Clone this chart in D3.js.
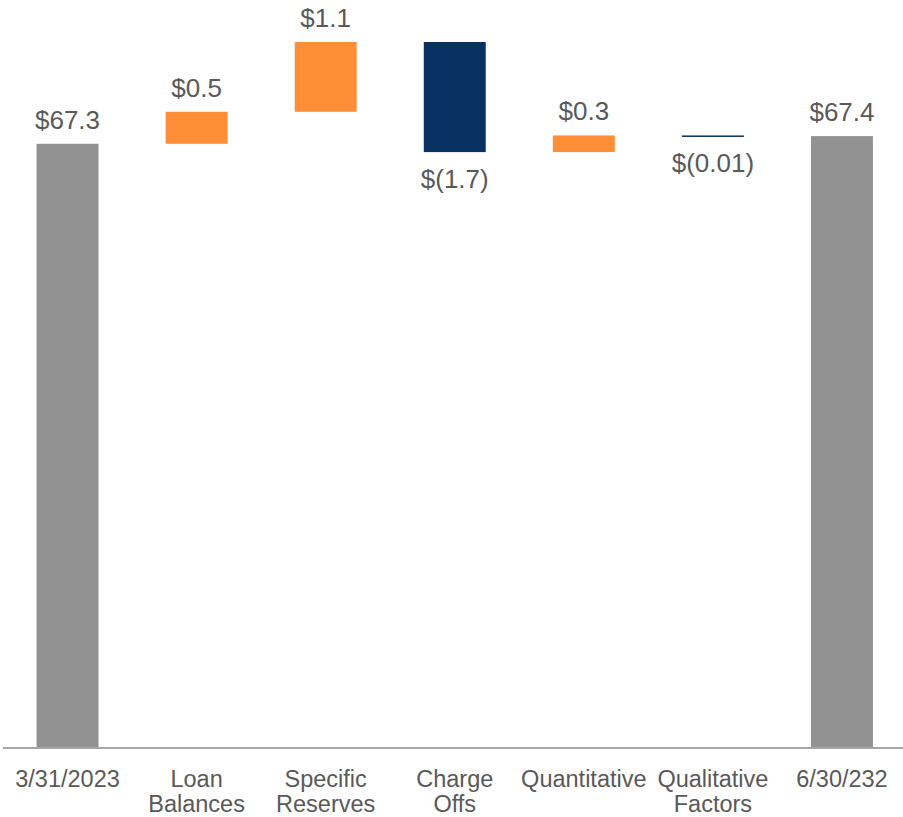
<!DOCTYPE html>
<html>
<head>
<meta charset="utf-8">
<script src="https://cdn.jsdelivr.net/npm/d3@7"></script>
<style>
  html, body { margin: 0; padding: 0; background: #fff; }
  svg { display: block; font-family: "Liberation Sans", Arial, sans-serif; }
</style>
</head>
<body>
<svg id="chart" width="903" height="817"></svg>
<script>
// ---- data ----
const categories = ["3/31/2023", "Loan Balances", "Specific Reserves", "Charge Offs", "Quantitative", "Qualitative Factors", "6/30/232"];
const categoryLines = [["3/31/2023"], ["Loan", "Balances"], ["Specific", "Reserves"], ["Charge", "Offs"], ["Quantitative"], ["Qualitative", "Factors"], ["6/30/232"]];
const kinds = ["total", "delta", "delta", "delta", "delta", "delta", "total"];
const values = [67.30, 0.50, 1.09, -1.72, 0.26, -0.01, 67.42];
const valueLabels = ["$67.3", "$0.5", "$1.1", "$(1.7)", "$0.3", "$(0.01)", "$67.4"];

// ---- layout ----
const svg = d3.select("#chart");
const baseY = 748;

const x = d3.scaleBand().domain(categories).range([3, 906.5]).paddingInner(0.52).paddingOuter(0.26);
const y = d3.scaleLinear().domain([57.86, 68.89]).range([baseY, 42]);

// compute waterfall segments
let running = 0;
const segs = categories.map((c, i) => {
  let y0, y1;
  if (kinds[i] === "total") { y0 = y.domain()[0]; y1 = values[i]; running = values[i]; }
  else { y0 = running; y1 = running + values[i]; running = y1; }
  return { c, i, y0, y1, v: values[i], kind: kinds[i] };
});

const colorFor = d => d.kind === "total" ? "#929292" : (d.v >= 0 ? "#FF8E36" : "#063160");

svg.append("g").selectAll("rect").data(segs).join("rect")
  .attr("x", d => x(d.c))
  .attr("width", x.bandwidth())
  .attr("y", d => y(Math.max(d.y0, d.y1)))
  .attr("height", d => Math.max(1.5, Math.abs(y(d.y0) - y(d.y1))))
  .attr("fill", colorFor);

// axis baseline
const xAxis = d3.axisBottom(x).tickSize(0).tickFormat("");
const ax = svg.append("g").attr("transform", `translate(0,${baseY})`).call(xAxis);
ax.select(".domain").attr("stroke", "#A6A6A6").attr("stroke-width", 2).attr("d", `M3,0H903`);

// category labels
const lab = svg.append("g").attr("font-size", "23.5px").attr("fill", "#595959").attr("text-anchor", "middle");
segs.forEach(d => {
  const t = lab.append("text").attr("x", x(d.c) + x.bandwidth() / 2).attr("y", 787);
  categoryLines[d.i].forEach((ln, k) => {
    t.append("tspan").attr("x", x(d.c) + x.bandwidth() / 2).attr("dy", k === 0 ? 0 : 25).text(ln);
  });
});

// value labels
svg.append("g").attr("font-size", "26px").attr("fill", "#595959").attr("text-anchor", "middle")
  .selectAll("text").data(segs).join("text")
  .attr("x", d => x(d.c) + x.bandwidth() / 2)
  .attr("y", d => d.v >= 0 ? y(Math.max(d.y0, d.y1)) - 15 : y(Math.min(d.y0, d.y1)) + 36)
  .text(d => valueLabels[d.i]);
</script>
</body>
</html>
